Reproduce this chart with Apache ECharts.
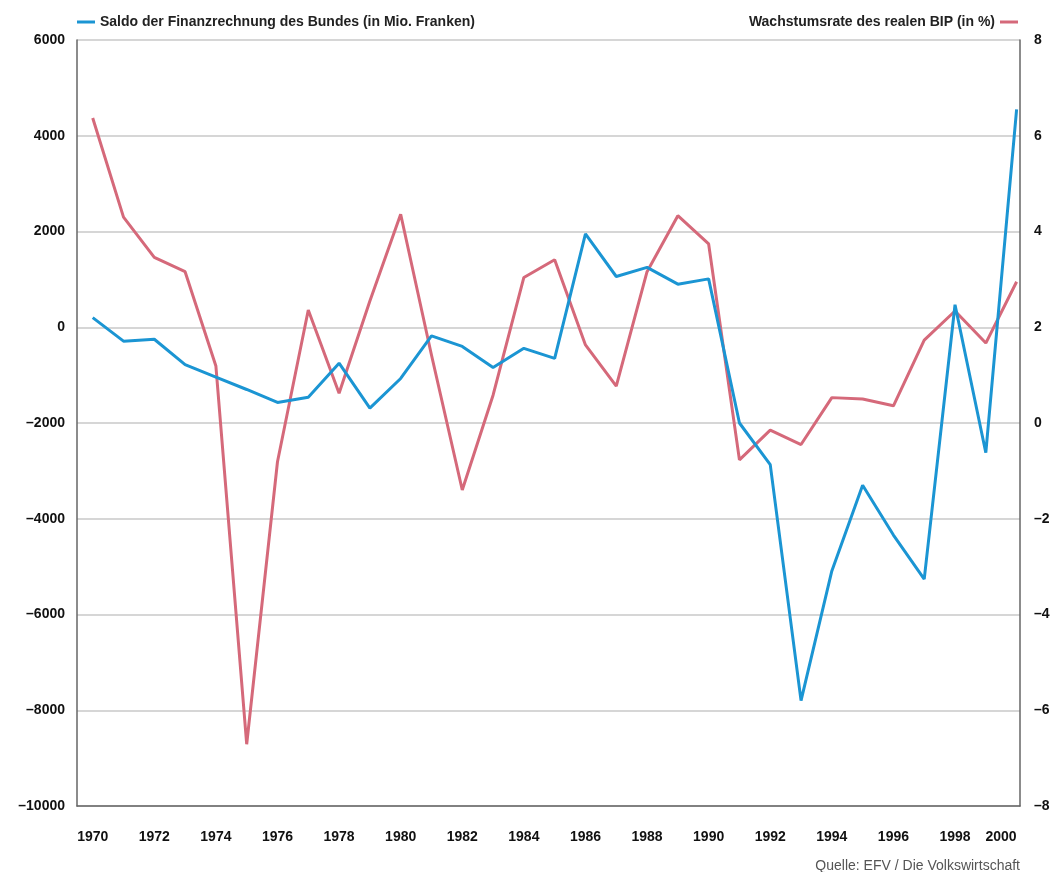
<!DOCTYPE html>
<html>
<head>
<meta charset="utf-8">
<script src="https://cdn.jsdelivr.net/npm/echarts@6/dist/echarts.min.js"></script>
<style>
  html, body { margin: 0; padding: 0; background: #fff; }
  #chart { width: 1063px; height: 872px; }
</style>
</head>
<body>
<div id="chart"></div>
<script>
// Jahre
const years = [1970, 1971, 1972, 1973, 1974, 1975, 1976, 1977, 1978, 1979,
  1980, 1981, 1982, 1983, 1984, 1985, 1986, 1987, 1988, 1989,
  1990, 1991, 1992, 1993, 1994, 1995, 1996, 1997, 1998, 1999, 2000]
// Saldo der Finanzrechnung des Bundes (Mio. Franken)
const saldo = [200, -290, -250, -780, -1040, -1300, -1570, -1460, -750, -1690,
  -1070, -180, -400, -840, -440, -650, 1950, 1060, 1250, 900,
  1010, -2000, -2870, -7800, -5090, -3300, -4340, -5260, 470, -2620, 4550]
// Wachstumsrate des realen BIP (%)
const bip = [6.37, 4.3, 3.46, 3.16, 1.19, -6.71, -0.81, 2.36, 0.62, 2.55,
  4.36, 1.42, -1.4, 0.58, 3.04, 3.41, 1.63, 0.77, 3.16, 4.33,
  3.74, -0.77, -0.15, -0.45, 0.53, 0.5, 0.36, 1.73, 2.34, 1.67, 2.95]
const yearTicks = [1970, 1972, 1974, 1976, 1978, 1980, 1982, 1984, 1986, 1988,
  1990, 1992, 1994, 1996, 1998, 2000]

const nameSaldo = 'Saldo der Finanzrechnung des Bundes (in Mio. Franken)'
const nameBip = 'Wachstumsrate des realen BIP (in %)'
const blue = '#1b95d3'
const pink = '#d5697a'
const font = 'Liberation Sans'

const minus = v => String(v).replace('-', '\u2013')

const chart = echarts.init(document.getElementById('chart'), null, { renderer: 'canvas' })
const option = {
  animation: false,
  backgroundColor: '#fff',
  textStyle: { fontFamily: font },
  grid: { left: 77, right: 43, top: 40, bottom: 66 },
  legend: [
    {
      data: [nameSaldo],
      left: 72,
      top: 10,
      icon: 'rect',
      itemWidth: 18,
      itemHeight: 3,
      itemGap: 10,
      textStyle: { fontFamily: font, fontWeight: 'bold', fontSize: 14, color: '#222' }
    },
    {
      data: [nameBip],
      right: 40,
      top: 10,
      align: 'right',
      icon: 'rect',
      itemWidth: 18,
      itemHeight: 3,
      textStyle: { fontFamily: font, fontWeight: 'bold', fontSize: 14, color: '#222' }
    }
  ],
  xAxis: {
    type: 'value',
    min: 1969.49,
    max: 2000.11,
    axisLine: { show: true, onZero: false, lineStyle: { color: '#666', width: 1.5 } },
    axisTick: { show: false },
    splitLine: { show: false },
    axisLabel: {
      customValues: yearTicks,
      margin: 24,
      alignMaxLabel: 'right',
      fontFamily: font,
      fontWeight: 'bold',
      fontSize: 14,
      color: '#111',
      formatter: v => String(v)
    }
  },
  yAxis: [
    {
      type: 'value',
      min: -10000,
      max: 6000,
      interval: 2000,
      axisLine: { show: true, lineStyle: { color: '#666', width: 1.5 } },
      axisTick: { show: false },
      splitLine: { lineStyle: { color: '#c8c8c8', width: 1.5 } },
      axisLabel: {
        margin: 12,
        fontFamily: font,
        fontWeight: 'bold',
        fontSize: 14,
        color: '#111',
        formatter: minus
      }
    },
    {
      type: 'value',
      min: -8,
      max: 8,
      interval: 2,
      position: 'right',
      axisLine: { show: true, lineStyle: { color: '#666', width: 1.5 } },
      axisTick: { show: false },
      splitLine: { show: false },
      axisLabel: {
        margin: 14,
        fontFamily: font,
        fontWeight: 'bold',
        fontSize: 14,
        color: '#111',
        formatter: minus
      }
    }
  ],
  series: [
    {
      name: nameSaldo,
      type: 'line',
      yAxisIndex: 0,
      data: years.map((y, i) => [y, saldo[i]]),
      symbol: 'none',
      lineStyle: { color: blue, width: 3 },
      itemStyle: { color: blue },
      z: 3
    },
    {
      name: nameBip,
      type: 'line',
      yAxisIndex: 1,
      data: years.map((y, i) => [y, bip[i]]),
      symbol: 'none',
      lineStyle: { color: pink, width: 3 },
      itemStyle: { color: pink },
      z: 2
    }
  ],
  graphic: [
    {
      type: 'text',
      right: 43,
      top: 859,
      style: {
        text: 'Quelle: EFV / Die Volkswirtschaft',
        fontFamily: font,
        fontSize: 14,
        fill: '#555'
      }
    }
  ]
}
chart.setOption(option)
window.addEventListener('resize', () => {
  chart.resize()
})
</script>
</body>
</html>
